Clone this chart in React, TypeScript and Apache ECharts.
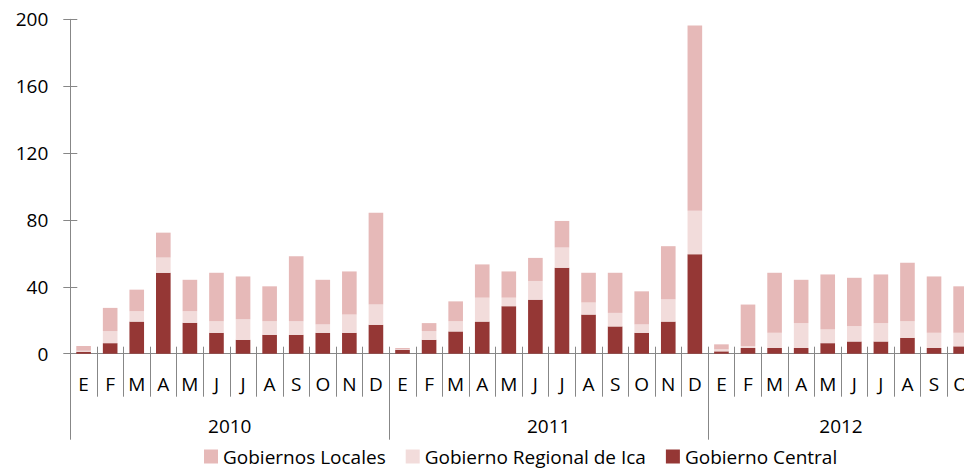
import React, { useEffect, useRef } from "react";
import * as echarts from "echarts";

const months = ["E", "F", "M", "A", "M", "J", "J", "A", "S", "O", "N", "D"];
const monthsShort2012 = ["E", "F", "M", "A", "M", "J", "J", "A", "S", "O"];
const categories = [...months, ...months, ...monthsShort2012];
const yearLabels: Record<number, string> = { 6: "2010", 18: "2011", 29: "2012" };

const gobiernoCentral = [
  1.2, 6.3, 19.2, 48.4, 18.5, 12.5, 8.3, 11.3, 11.3, 12.5, 12.5, 17.3,
  2.4, 8.3, 13.3, 19.2, 28.4, 32.3, 51.4, 23.4, 16.3, 12.5, 19.2, 59.5,
  1.4, 3.4, 3.4, 3.4, 6.3, 7.3, 7.3, 9.5, 3.4, 4.4,
];
const gobiernoRegional = [
  0.6, 7.2, 6.2, 9.1, 6.9, 6.9, 12.3, 8.1, 8.1, 5.0, 10.9, 12.1,
  0.4, 5.2, 6.1, 14.3, 5.1, 11.2, 12.1, 7.2, 8.1, 5.0, 13.3, 26.0,
  1.2, 1.2, 9.1, 14.9, 8.2, 9.2, 11.0, 9.9, 9.1, 8.1,
];
const gobiernosLocales = [
  2.8, 13.9, 12.9, 14.9, 18.8, 29.0, 25.6, 20.9, 38.9, 26.7, 25.8, 54.9,
  0.6, 4.8, 11.9, 19.9, 15.7, 13.8, 15.9, 17.8, 24.0, 19.8, 31.8, 110.8,
  3.0, 24.8, 35.9, 25.9, 32.9, 28.9, 29.1, 35.0, 33.7, 27.8,
];

const FONT = "'Open Sans', 'Liberation Sans', sans-serif";
const AXIS = "#878787";
const FS = 19;

export default function App() {
  const ref = useRef<HTMLDivElement>(null);
  useEffect(() => {
    document.body.style.margin = "0";
    document.body.style.overflow = "hidden";
    if (!ref.current) return;
    const chart = echarts.init(ref.current, undefined, { renderer: "svg" });
    const n = categories.length;
    chart.setOption({
      animation: false,
      backgroundColor: "#ffffff",
      textStyle: { fontFamily: FONT },
      grid: { left: 70.3, top: 19.3, width: 903.6, height: 334.4, containLabel: false },
      legend: {
        left: 199,
        top: 442,
        itemWidth: 14,
        itemHeight: 14,
        itemGap: 20,
        icon: "rect",
        data: ["Gobiernos Locales", "Gobierno Regional de Ica", "Gobierno Central"],
        textStyle: { fontFamily: FONT, fontSize: FS, color: "#000", lineHeight: 19 },
      },
      xAxis: [
        {
          type: "category",
          data: categories,
          position: "bottom",
          boundaryGap: true,
          axisLine: { show: true, lineStyle: { color: AXIS, width: 1 } },
          axisTick: { show: true, length: 43, lineStyle: { color: AXIS } },
          axisLabel: { interval: 0, margin: 21, fontSize: FS, color: "#000", fontFamily: FONT },
        },
        {
          type: "category",
          data: categories,
          position: "bottom",
          boundaryGap: true,
          axisLine: { show: false },
          axisTick: { show: true, inside: true, length: 7, lineStyle: { color: AXIS } },
          axisLabel: { show: false },
        },
        {
          type: "value",
          min: 0,
          max: n,
          interval: 12,
          position: "bottom",
          axisLine: { show: false },
          splitLine: { show: false },
          axisTick: { show: true, length: 86, lineStyle: { color: AXIS } },
          axisLabel: { show: false },
        },
        {
          type: "value",
          min: 0,
          max: n,
          interval: 1,
          position: "bottom",
          axisLine: { show: false },
          splitLine: { show: false },
          axisTick: { show: false },
          axisLabel: {
            show: true,
            margin: 63,
            fontSize: FS,
            color: "#000",
            fontFamily: FONT,
            formatter: (v: number) => yearLabels[Math.round(v)] ?? "",
          },
        },
      ],
      yAxis: [
        {
          type: "value",
          min: 0,
          max: 200,
          interval: 40,
          position: "left",
          axisLine: { show: true, lineStyle: { color: AXIS, width: 1 } },
          axisTick: { show: true, length: 7, lineStyle: { color: AXIS } },
          splitLine: { show: false },
          axisLabel: { margin: 22, fontSize: FS, color: "#000", fontFamily: FONT },
        },
        {
          type: "value",
          min: 0,
          max: 200,
          interval: 40,
          position: "left",
          axisLine: { show: false },
          axisTick: { show: true, inside: true, length: 7, lineStyle: { color: AXIS } },
          splitLine: { show: false },
          axisLabel: { show: false },
        },
      ],
      series: [
        {
          name: "Gobierno Central",
          type: "bar",
          stack: "total",
          data: gobiernoCentral,
          barWidth: "55%",
          itemStyle: { color: "#953735" },
        },
        {
          name: "Gobierno Regional de Ica",
          type: "bar",
          stack: "total",
          data: gobiernoRegional,
          barWidth: "55%",
          itemStyle: { color: "#F2DCDB" },
        },
        {
          name: "Gobiernos Locales",
          type: "bar",
          stack: "total",
          data: gobiernosLocales,
          barWidth: "55%",
          itemStyle: { color: "#E6B9B8" },
        },
      ],
    });
    return () => chart.dispose();
  }, []);
  return <div ref={ref} style={{ width: 990, height: 469 }} />;
}
